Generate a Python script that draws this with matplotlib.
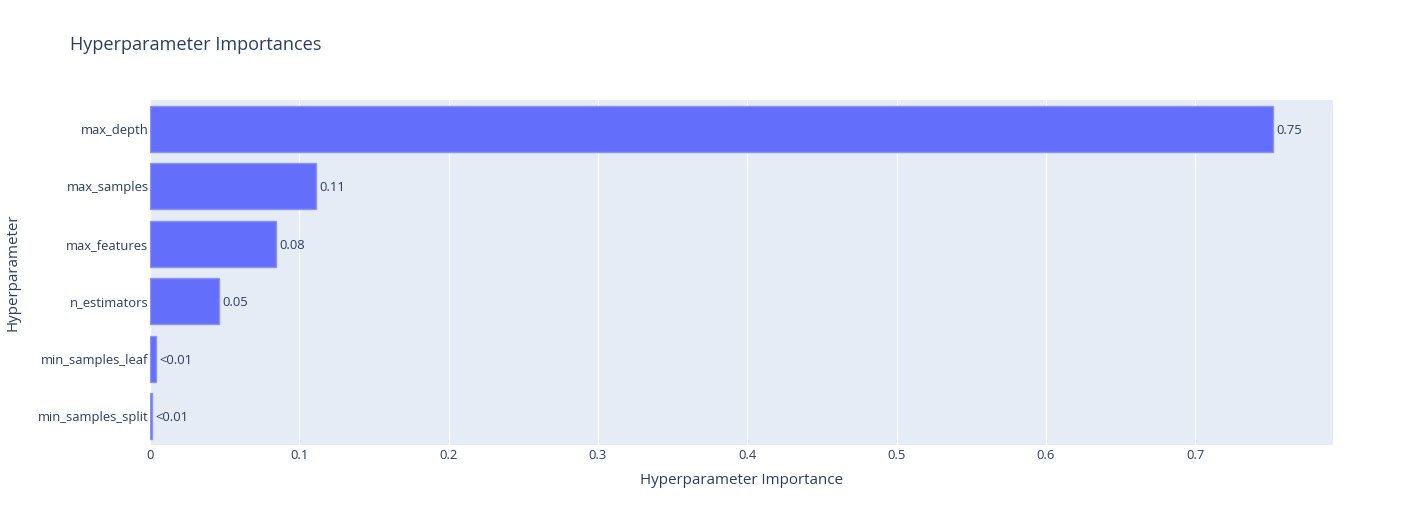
import matplotlib.pyplot as plt
import numpy as np

plt.rcParams['font.family'] = ['Open Sans', 'DejaVu Sans']

# data, bottom to top as drawn
params = ["min_samples_split", "min_samples_leaf", "n_estimators",
          "max_features", "max_samples", "max_depth"]
importance = [0.0013, 0.004, 0.0462, 0.0844, 0.1112, 0.752]
bar_text = ["<0.01", "<0.01", "0.05", "0.08", "0.11", "0.75"]
xticks = [0, 0.1, 0.2, 0.3, 0.4, 0.5, 0.6, 0.7]

W, H = 1413, 525
fig = plt.figure(figsize=(W / 100, H / 100), dpi=100)
ax = fig.add_axes([150 / W, (H - 445) / H, (1333 - 150) / W, (445 - 100) / H])

text_col = '#2a3f5f'
fs = 9.4
ax.set_facecolor('#e5ecf6')
ypos = np.arange(len(params))
ax.barh(ypos, importance, height=0.8, color='#636efa',
        edgecolor='#8a92fb', linewidth=1, zorder=3)
for y, v, t in zip(ypos, importance, bar_text):
    ax.text(v + 0.002, y, t, va='center_baseline', ha='left', fontsize=fs,
            color=text_col, zorder=4)

ax.set_xlim(0, 0.7922)
ax.set_ylim(-0.5, len(params) - 0.5)
ax.set_xticks(xticks)
ax.set_xticklabels([str(x) if x else "0" for x in xticks])
ax.set_yticks(ypos)
ax.set_yticklabels(params, va='center_baseline')
ax.grid(axis='x', color='white', linewidth=1, zorder=0)
ax.tick_params(length=0, labelsize=fs, labelcolor=text_col)
ax.tick_params(axis='x', pad=3)
ax.tick_params(axis='y', pad=1)
for s in ax.spines.values():
    s.set_visible(False)

ax.set_xlabel("Hyperparameter Importance", fontsize=10.9, color=text_col)
ax.xaxis.set_label_coords(0.5, -(481 - 445) / (445 - 100))
ax.set_ylabel("Hyperparameter", fontsize=10.9, color=text_col)
ax.yaxis.set_label_coords(-(150 - 13) / (1333 - 150), 0.5)
ax.xaxis.label.set_va('center')
ax.yaxis.label.set_va('center')
fig.text(70 / W, 1 - 45 / H, "Hyperparameter Importances", fontsize=13.1,
         color=text_col, va='center', ha='left')

fig.savefig('out.png', dpi=100)
